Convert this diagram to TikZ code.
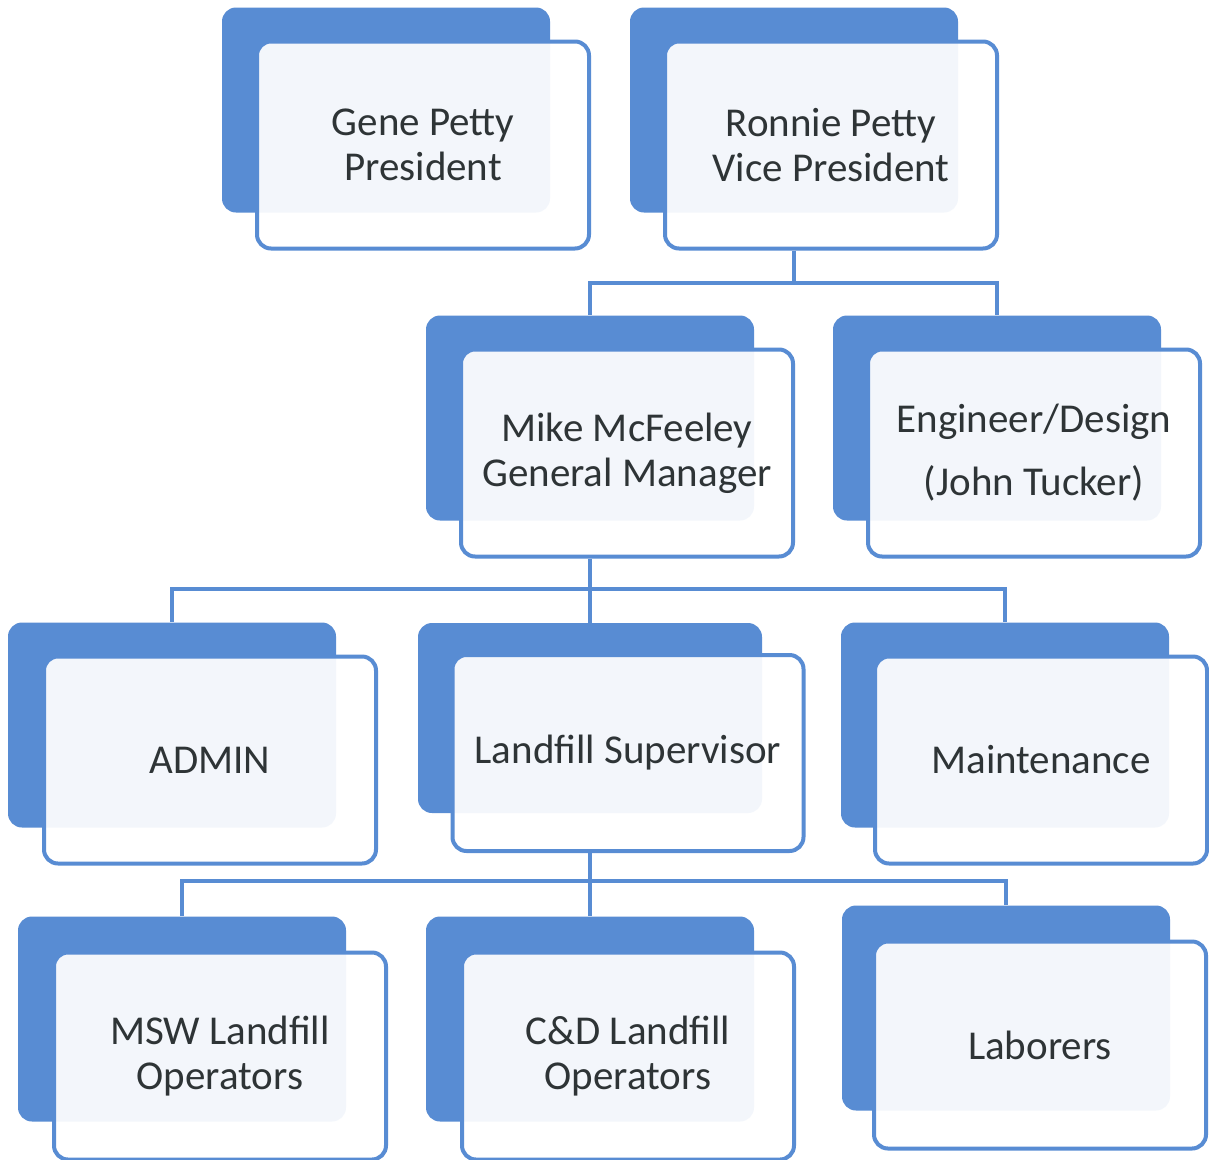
\documentclass[tikz,border=0pt]{standalone}
\usepackage{fontspec}
\setmainfont{Carlito}
\usepackage{tikz}
\usetikzlibrary{calc}
\usetikzlibrary{positioning}
\definecolor{orgblue}{RGB}{88,140,211}
\definecolor{orgtext}{RGB}{46,52,54}

\begin{document}
\begin{tikzpicture}[
  x=1pt, y=-1pt,
  backbox/.style = {fill=orgblue,rounded corners=14pt,minimum width=328pt,minimum height=205pt,inner sep=0pt},
  frontbox/.style = {draw=orgblue,line width=4pt,fill=white,fill opacity=0.93,text opacity=1,
    rounded corners=14pt,minimum width=332pt,minimum height=207pt,inner sep=0pt,
    align=center,text=orgtext,font=\fontsize{41}{45}\selectfont},
  link/.style = {draw=orgblue,line width=4pt}
  ]
	\useasboundingbox[fill=white] (0,0) rectangle (1209,1159);

	% back boxes
	\node[backbox] (gene-b) at (386,110) {};
	\node[backbox] (ronnie-b) at (794,110) {};
	\node[backbox] (mike-b) at (590,418) {};
	\node[backbox] (eng-b) at (997,418) {};
	\node[backbox] (admin-b) at (172,725) {};
	\node[backbox,minimum width=344pt,minimum height=190pt] (super-b) at (590,718) {};
	\node[backbox] (maint-b) at (1005,725) {};
	\node[backbox] (msw-b) at (182,1019) {};
	\node[backbox] (cd-b) at (590,1019) {};
	\node[backbox] (labor-b) at (1006,1008) {};

	% front boxes
	\node[frontbox] (gene) at ($(gene-b)+(37,35)$) {Gene Petty\\President};
	\node[frontbox] (ronnie) at ($(ronnie-b)+(37,35)$) {Ronnie Petty\\Vice President};
	\node[frontbox] (mike) at ($(mike-b)+(37,35)$) {Mike McFeeley\\General Manager};
	\node[frontbox] (eng) at ($(eng-b)+(37,35)$) {Engineer/Design\\[18pt](John Tucker)};
	\node[frontbox] (admin) at ($(admin-b)+(38,35)$) {ADMIN};
	\node[frontbox,minimum width=351pt,minimum height=196pt] (super) at ($(super-b)+(38,35)$) {Landfill Supervisor};
	\node[frontbox] (maint) at ($(maint-b)+(36,35)$) {Maintenance};
	\node[frontbox] (msw) at ($(msw-b)+(38,37)$) {MSW Landfill\\Operators};
	\node[frontbox] (cd) at ($(cd-b)+(38,37)$) {C\&D Landfill\\Operators};
	\node[frontbox] (labor) at ($(labor-b)+(34,37)$) {Laborers};

	% connectors
	\coordinate (j1) at ($(ronnie-b.south |- ronnie.south)+(0,32)$);
	\draw[link] (ronnie-b.south |- ronnie.south) -- (j1);
	\draw[link] (j1) -| (mike-b.north);
	\draw[link] (j1) -| (eng-b.north);

	\coordinate (j2) at ($(mike-b.south |- mike.south)+(0,30)$);
	\draw[link] (mike-b.south |- mike.south) -- (j2);
	\draw[link] (j2) -| (admin-b.north);
	\draw[link] (j2) -- (super-b.north);
	\draw[link] (j2) -| (maint-b.north);

	\coordinate (j3) at ($(super-b.south |- super.south)+(0,28)$);
	\draw[link] (super-b.south |- super.south) -- (j3);
	\draw[link] (j3) -| (msw-b.north);
	\draw[link] (j3) -- (cd-b.north);
	\draw[link] (j3) -| (labor-b.north);

\end{tikzpicture}
\end{document}
